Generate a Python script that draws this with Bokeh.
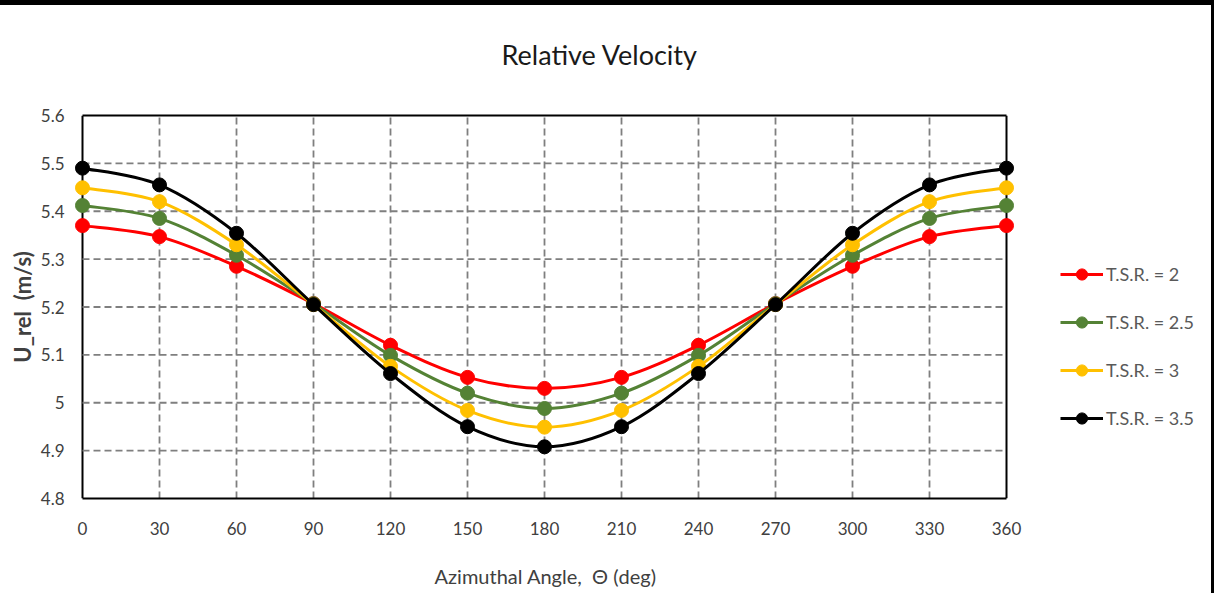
from bokeh.plotting import figure
from bokeh.models import (Range1d, FixedTicker, NumeralTickFormatter, Legend, LegendItem,
                          ColumnDataSource, Span, LinearAxis, Title)
from bokeh.embed import file_html
from bokeh.resources import INLINE

# ---- data ----
angle = [0, 30, 60, 90, 120, 150, 180, 210, 240, 270, 300, 330, 360]
tsr_2 = [5.370, 5.347, 5.285, 5.207, 5.120, 5.053, 5.030, 5.053, 5.120, 5.207, 5.285, 5.347, 5.370]
tsr_25 = [5.412, 5.385, 5.308, 5.207, 5.099, 5.020, 4.988, 5.020, 5.099, 5.207, 5.308, 5.385, 5.412]
tsr_3 = [5.449, 5.420, 5.330, 5.205, 5.076, 4.984, 4.949, 4.984, 5.076, 5.205, 5.330, 5.420, 5.449]
tsr_35 = [5.490, 5.455, 5.354, 5.205, 5.061, 4.950, 4.908, 4.950, 5.061, 5.205, 5.354, 5.455, 5.490]
series_names = ["T.S.R. = 2", "T.S.R. = 2.5", "T.S.R. = 3", "T.S.R. = 3.5"]
series_values = [tsr_2, tsr_25, tsr_3, tsr_35]
series_colors = ["#ff0000", "#548235", "#ffc000", "#000000"]
x_ticks = [0, 30, 60, 90, 120, 150, 180, 210, 240, 270, 300, 330, 360]
y_ticks = [4.8, 4.9, 5.0, 5.1, 5.2, 5.3, 5.4, 5.5, 5.6]
title_text = "Relative Velocity"
x_label = "Azimuthal Angle,\u00a0 \u0398 (deg)"
y_label = "U_rel\u00a0 (m/s)"

FONT = "Lato"

# ---- layout (pixels) ----
W, H = 1214, 593
FRAME_L, FRAME_R = 74, 1204          # Bokeh frame (wider, so the legend fits inside it)
BOX_L, BOX_R = 82, 1006              # where the chart's plot box is drawn
px_per_deg = (BOX_R - BOX_L) / (x_ticks[-1] - x_ticks[0])
x_start = x_ticks[0] - (BOX_L - FRAME_L) / px_per_deg
x_end = x_ticks[-1] + (FRAME_R - BOX_R) / px_per_deg


def smooth_segments(xs, ys):
    """Bezier control points (Catmull-Rom style) so the curve passes through every data point."""
    n = len(xs)
    x0, y0, x1, y1, cx0, cy0, cx1, cy1 = [], [], [], [], [], [], [], []
    for i in range(n - 1):
        xp, yp = (xs[i - 1], ys[i - 1]) if i > 0 else (xs[i], ys[i])
        xn, yn = (xs[i + 2], ys[i + 2]) if i + 2 < n else (xs[i + 1], ys[i + 1])
        x0.append(xs[i]); y0.append(ys[i]); x1.append(xs[i + 1]); y1.append(ys[i + 1])
        cx0.append(xs[i] + (xs[i + 1] - xp) / 6.0)
        cy0.append(ys[i] + (ys[i + 1] - yp) / 6.0)
        cx1.append(xs[i + 1] - (xn - xs[i]) / 6.0)
        cy1.append(ys[i + 1] - (yn - ys[i]) / 6.0)
    return dict(x0=x0, y0=y0, x1=x1, y1=y1, cx0=cx0, cy0=cy0, cx1=cx1, cy1=cy1)


p = figure(width=W, height=H, output_backend="svg", toolbar_location=None,
           x_range=Range1d(x_start, x_end), y_range=Range1d(y_ticks[0], y_ticks[-1]),
           min_border_left=FRAME_L, min_border_right=W - FRAME_R,
           min_border_top=110, min_border_bottom=100)
p.styles = {"border-top": "5px solid black", "border-right": "3px solid black"}

p.title.text = title_text
p.title.align = "left"
p.title.offset = 427
p.title.text_font = FONT
p.title.text_font_style = "normal"
p.title.text_font_size = "27px"
p.title.text_color = "#1a1a1a"
p.title.standoff = 0

p.outline_line_color = None
p.background_fill_color = "white"
p.border_fill_color = "white"
p.xgrid.visible = False
p.ygrid.visible = False

for ax in (p.xaxis[0], p.yaxis[0]):
    ax.axis_line_color = "black"
    ax.axis_line_width = 2
    ax.major_tick_in = 0
    ax.major_tick_out = 0
    ax.minor_tick_line_color = None
    ax.major_label_text_font = FONT
    ax.major_label_text_font_size = "17px"
    ax.major_label_text_color = "#404040"
    ax.axis_label_text_font = FONT
    ax.axis_label_text_font_style = "normal"
    ax.axis_label_text_color = "#404040"

# bottom axis: line = bottom edge of the plot box; blank label only reserves room
p.xaxis.ticker = FixedTicker(ticks=x_ticks)
p.xaxis.bounds = (x_ticks[0], x_ticks[-1])
p.xaxis.major_label_standoff = 23
p.xaxis.axis_label = "\u00a0"
p.xaxis.axis_label_text_font_size = "10px"
p.xaxis.axis_label_standoff = 9

p.yaxis.ticker = FixedTicker(ticks=y_ticks)
p.yaxis.formatter = NumeralTickFormatter(format="0.[0]")
p.yaxis.axis_line_color = None
p.yaxis.major_label_standoff = 10
p.yaxis.axis_label = y_label
p.yaxis.axis_label_text_font_size = "22px"
p.yaxis.axis_label_text_font_style = "bold"
p.yaxis.axis_label_standoff = 2

# top axis: its line is the top edge of the plot box
top_axis = LinearAxis(ticker=FixedTicker(ticks=[]), bounds=(x_ticks[0], x_ticks[-1]),
                      axis_line_color="black", axis_line_width=2,
                      major_tick_in=0, major_tick_out=0, minor_tick_line_color=None,
                      axis_label="\u00a0", axis_label_text_font_size="10px",
                      axis_label_standoff=31)
p.add_layout(top_axis, "above")

# x-axis title (below the tick labels)
xt = Title(text=x_label, align="left", offset=360, standoff=0, text_font=FONT,
           text_font_size="20px", text_font_style="normal", text_color="#404040")
p.add_layout(xt, "below")

# left / right edges of the plot box
for xv in (x_ticks[0], x_ticks[-1]):
    p.add_layout(Span(location=xv, dimension="height", line_color="black",
                      line_width=2, level="underlay"))

# dashed grid, limited to the plot box
grid_style = dict(line_color="#7f7f7f", line_width=1.8, line_dash="7 4")
inner_x = x_ticks[1:-1]
inner_y = y_ticks[1:-1]
p.segment(x0=inner_x, x1=inner_x, y0=[y_ticks[0]] * len(inner_x), y1=[y_ticks[-1]] * len(inner_x),
          **grid_style)
p.segment(x0=[x_ticks[0]] * len(inner_y), x1=[x_ticks[-1]] * len(inner_y), y0=inner_y, y1=inner_y,
          **grid_style)

items = []
for name, vals, col in zip(series_names, series_values, series_colors):
    seg = ColumnDataSource(smooth_segments(angle, vals))
    r_line = p.bezier(x0="x0", y0="y0", x1="x1", y1="y1", cx0="cx0", cy0="cy0",
                      cx1="cx1", cy1="cy1", source=seg, line_color=col, line_width=3)
    r_pts = p.scatter(angle, vals, size=14, marker="circle", fill_color=col, line_color=col)
    items.append(LegendItem(label=name, renderers=[r_line, r_pts]))

legend = Legend(items=items, location=(1060 - FRAME_L, 66), orientation="vertical")
legend.border_line_color = None
legend.background_fill_alpha = 0
legend.label_text_font = FONT
legend.label_text_font_size = "18px"
legend.label_text_color = "#595959"
legend.glyph_width = 43
legend.glyph_height = 28
legend.label_standoff = 3
legend.spacing = 20
legend.padding = 0
legend.margin = 0
p.add_layout(legend, "center")

open("out.html", "w").write(file_html(p, INLINE))
